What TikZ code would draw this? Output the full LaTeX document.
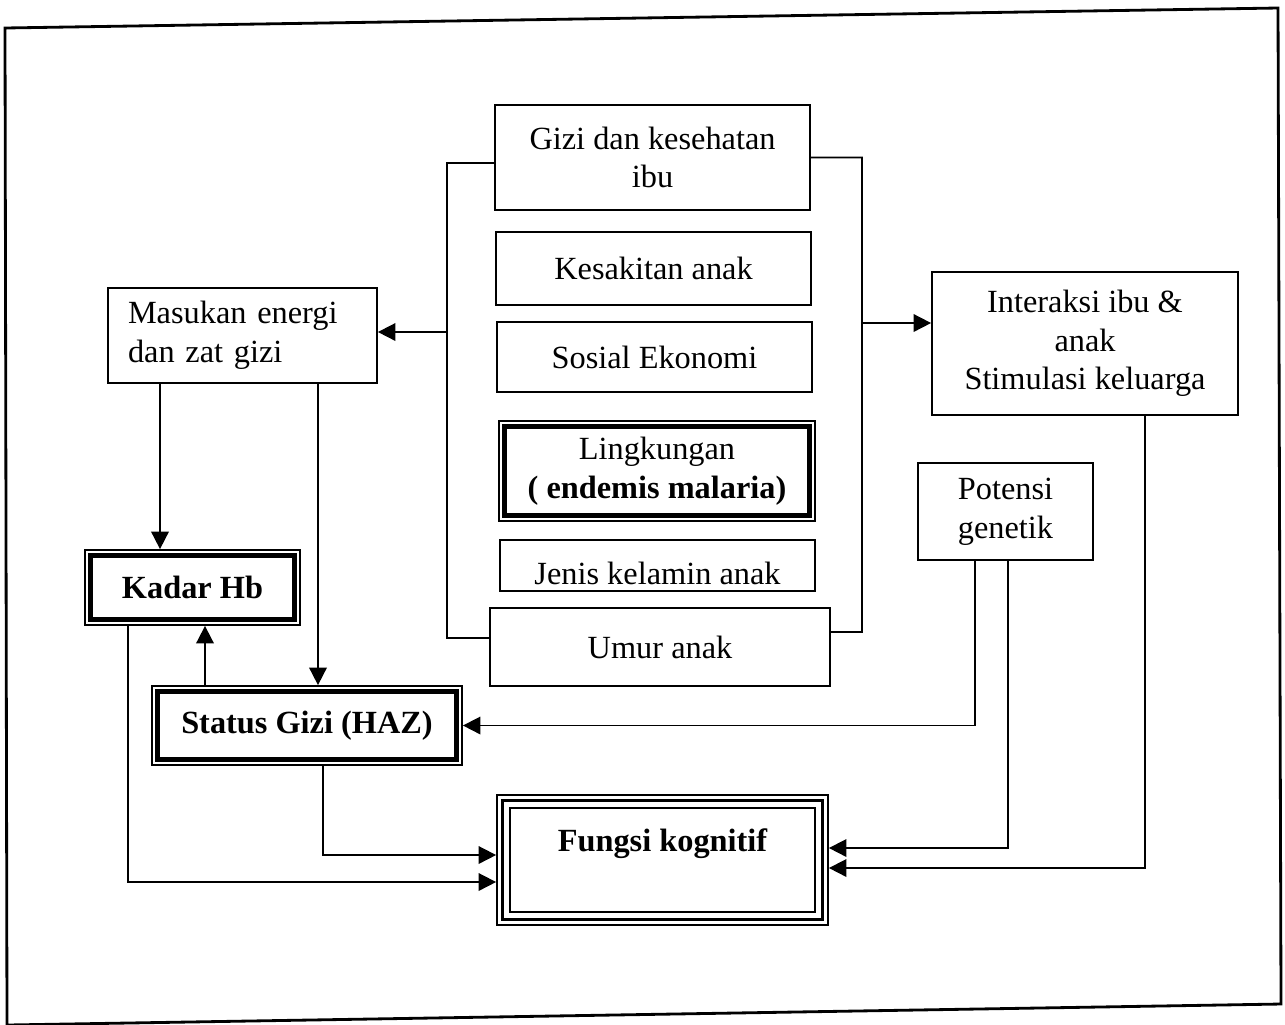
\documentclass[tikz,border=0pt]{standalone}
\usepackage{fontspec}
\setmainfont{Liberation Serif}
\usetikzlibrary{arrows.meta}
\tikzset{
    box/.style={draw, line width=0.5pt, align=center, inner sep=0pt}, % kotak biasa
    arr/.style={-{Triangle[length=5pt, width=5pt]}, line width=0.5pt}, % panah
    tebal/.style={line width=1.4pt} % garis dalam yang tebal
}

\begin{document}
\begin{tikzpicture}[y=-1cm, font=\fontsize{9.2}{11}\selectfont]
            \useasboundingbox (0,0) rectangle (12.85,10.24);
            \draw[line width=0.8pt] (0.05,0.28) -- (12.78,0.08) -- (12.81,10.04) -- (0.07,10.25) -- cycle;

            % kolom tengah
            \node[box, minimum width=3.15cm, minimum height=1.05cm] (gizi) at (6.525,1.575) {Gizi dan kesehatan\\ibu};
            \node[box, minimum width=3.15cm, minimum height=0.73cm] (sakit) at (6.535,2.685) {Kesakitan anak};
            \node[box, minimum width=3.15cm, minimum height=0.70cm] (sosek) at (6.545,3.57) {Sosial Ekonomi};
            \node[box, minimum width=3.16cm, minimum height=1.00cm] (lingk) at (6.57,4.71) {Lingkungan\\\textbf{( endemis malaria)}};
            \draw[tebal] ([shift={(0.06cm,-0.06cm)}]lingk.north west) rectangle ([shift={(-0.06cm,0.06cm)}]lingk.south east);
            \node[box, minimum width=3.15cm, minimum height=0.51cm] (jenis) at (6.575,5.655) {\raisebox{-5.3pt}[0pt][0pt]{Jenis kelamin anak}};
            \node[box, minimum width=3.40cm, minimum height=0.78cm] (umur) at (6.60,6.47) {Umur anak};

            % kotak kiri dan kanan
            \node[box, align=left, text width=2.29cm, inner xsep=0.2cm, minimum height=0.95cm] (masukan) at (2.425,3.355) {Masukan energi\\dan zat gizi};
            \node[box, minimum width=3.06cm, minimum height=1.43cm] (interaksi) at (10.85,3.435) {Interaksi ibu \&\\anak\\Stimulasi keluarga};
            \node[box, minimum width=1.75cm, minimum height=0.97cm] (potensi) at (10.055,5.115) {Potensi\\genetik};

            \node[box, minimum width=2.15cm, minimum height=0.75cm, font=\fontsize{9.2}{11}\selectfont\bfseries] (kadar) at (1.925,5.875) {Kadar Hb};
            \draw[tebal] ([shift={(0.06cm,-0.06cm)}]kadar.north west) rectangle ([shift={(-0.06cm,0.06cm)}]kadar.south east);
            \node[box, minimum width=3.10cm, minimum height=0.79cm, font=\fontsize{9.2}{11}\selectfont\bfseries] (status) at (3.07,7.255) {Status Gizi (HAZ)};
            \draw[tebal] ([shift={(0.06cm,-0.06cm)}]status.north west) rectangle ([shift={(-0.06cm,0.06cm)}]status.south east);

            \node[box, minimum width=3.31cm, minimum height=1.30cm] (fungsi) at (6.625,8.60) {\raisebox{2.3pt}[0pt][0pt]{\bfseries Fungsi kognitif}};
            \draw[line width=1pt] ([shift={(0.065cm,-0.065cm)}]fungsi.north west) rectangle ([shift={(-0.065cm,0.065cm)}]fungsi.south east);
            \draw[line width=0.5pt] ([shift={(0.14cm,-0.14cm)}]fungsi.north west) rectangle ([shift={(-0.14cm,0.14cm)}]fungsi.south east);

            % kurung kiri dan kanan
            \coordinate (kiri) at (4.47,3.32);
            \coordinate (kanan) at (8.62,3.23);
            \draw[line width=0.5pt] ([yshift=-0.055cm]gizi.west) -| (4.47,6.38) -- ([yshift=0.09cm]umur.west);
            \draw[line width=0.5pt] (gizi.east) -| (8.62,6.32) -- ([yshift=0.15cm]umur.east);
            \draw[arr] (kiri) -- (masukan.east |- kiri);
            \draw[arr] (kanan) -- (interaksi.west |- kanan);

            % panah-panah
            \coordinate (m1) at (1.60,3.83);
            \coordinate (m2) at (3.18,3.83);
            \coordinate (s1) at (2.05,6.86);
            \coordinate (s2) at (3.23,7.65);
            \coordinate (k1) at (1.28,6.25);
            \coordinate (p1) at (9.75,5.60);
            \coordinate (p2) at (10.08,5.60);
            \coordinate (i1) at (11.45,4.15);
            \draw[arr] (m1) -- (m1 |- kadar.north);
            \draw[arr] (m2) -- (m2 |- status.north);
            \draw[arr] (s1) -- (s1 |- kadar.south);
            \draw[arr] (k1) |- ([yshift=-0.22cm]fungsi.west);
            \draw[arr] (s2) |- ([yshift=0.05cm]fungsi.west);
            \draw[arr] (p1) |- (status.east);
            \draw[arr] (p2) |- ([yshift=0.12cm]fungsi.east);
            \draw[arr] (i1) |- ([yshift=-0.08cm]fungsi.east);
        \end{tikzpicture}
\end{document}
